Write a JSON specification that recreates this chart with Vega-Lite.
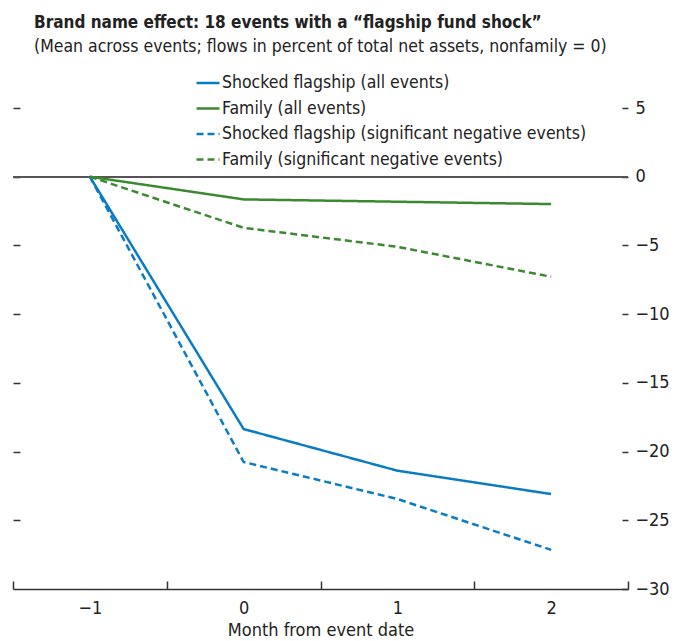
{
  "$schema": "https://vega.github.io/schema/vega-lite/v6.json",
  "autosize": {"type": "none"},
  "width": 615,
  "height": 481,
  "padding": {"left": 13, "top": 108, "right": 55, "bottom": 52},
  "background": "white",
  "config": {
    "font": "DejaVu Sans Condensed, Roboto, sans-serif",
    "view": {"stroke": null},
    "axis": {"grid": false, "labelFont": "DejaVu Sans Condensed, Roboto, sans-serif", "titleFont": "DejaVu Sans Condensed, Roboto, sans-serif", "labelColor": "#222", "titleColor": "#222", "titleFontWeight": "normal", "labelFontSize": 18, "titleFontSize": 18}
  },
  "title": {
    "text": "Brand name effect: 18 events with a “flagship fund shock”",
    "subtitle": "(Mean across events; flows in percent of total net assets, nonfamily = 0)",
    "anchor": "start",
    "frame": "group",
    "dx": 21,
    "offset": 14,
    "font": "DejaVu Sans Condensed, Roboto, sans-serif",
    "fontSize": 17,
    "fontWeight": "bold",
    "color": "#222",
    "subtitleFont": "DejaVu Sans Condensed, Roboto, sans-serif",
    "subtitleFontSize": 17.5,
    "subtitleColor": "#222",
    "subtitlePadding": 6
  },
  "data": {
    "values": [
      {"month": -1, "value": 0, "series": "Shocked flagship (all events)"},
      {"month": 0, "value": -18.36, "series": "Shocked flagship (all events)"},
      {"month": 1, "value": -21.39, "series": "Shocked flagship (all events)"},
      {"month": 2, "value": -23.09, "series": "Shocked flagship (all events)"},
      {"month": -1, "value": 0, "series": "Family (all events)"},
      {"month": 0, "value": -1.65, "series": "Family (all events)"},
      {"month": 1, "value": -1.82, "series": "Family (all events)"},
      {"month": 2, "value": -1.99, "series": "Family (all events)"},
      {"month": -1, "value": 0, "series": "Shocked flagship (significant negative events)"},
      {"month": 0, "value": -20.76, "series": "Shocked flagship (significant negative events)"},
      {"month": 1, "value": -23.45, "series": "Shocked flagship (significant negative events)"},
      {"month": 2, "value": -27.15, "series": "Shocked flagship (significant negative events)"},
      {"month": -1, "value": 0, "series": "Family (significant negative events)"},
      {"month": 0, "value": -3.72, "series": "Family (significant negative events)"},
      {"month": 1, "value": -5.1, "series": "Family (significant negative events)"},
      {"month": 2, "value": -7.28, "series": "Family (significant negative events)"}
    ]
  },
  "resolve": {"axis": {"x": "independent", "y": "independent"}},
  "layer": [
    {
      "mark": {"type": "point", "opacity": 0},
      "encoding": {
        "x": {"field": "month", "type": "quantitative", "scale": {"domain": [-1.5, 2.5], "nice": false, "zero": false},
          "axis": {"orient": "bottom", "values": [-1.5, -0.5, 0.5, 1.5, 2.5], "labels": false, "tickSize": -8, "tickColor": "#333", "tickWidth": 1.5, "domainColor": "#333", "domainWidth": 1.5, "title": null}},
        "y": {"field": "value", "type": "quantitative", "scale": {"domain": [-30, 5], "nice": false, "zero": false},
          "axis": {"orient": "left", "values": [5, 0, -5, -10, -15, -20, -25], "labels": false, "domain": false, "tickSize": -7, "tickColor": "#333", "tickWidth": 1.5, "title": null}}
      }
    },
    {
      "mark": {"type": "rule", "color": "#555", "strokeWidth": 1.5},
      "encoding": {"y": {"datum": 0, "type": "quantitative", "axis": null}}
    },
    {
      "mark": {"type": "line", "strokeWidth": 2.5},
      "encoding": {
        "x": {"field": "month", "type": "quantitative",
          "axis": {"orient": "bottom", "values": [-1, 0, 1, 2], "ticks": false, "domain": false, "labelPadding": 10, "title": "Month from event date", "titlePadding": 4, "format": "d"}},
        "y": {"field": "value", "type": "quantitative",
          "axis": {"orient": "right", "values": [5, 0, -5, -10, -15, -20, -25, -30], "domain": false, "tickSize": -6, "tickColor": "#333", "tickWidth": 1.5, "labelPadding": 13, "title": null, "format": "d"}},
        "color": {"field": "series", "type": "nominal",
          "scale": {"domain": ["Shocked flagship (all events)", "Family (all events)", "Shocked flagship (significant negative events)", "Family (significant negative events)"],
            "range": ["#0a7cc4", "#3b8a2f", "#0a7cc4", "#3b8a2f"]},
          "legend": {"orient": "none", "legendX": 182, "legendY": -38, "title": null, "symbolType": "stroke", "symbolSize": 529, "symbolStrokeWidth": 2.5, "labelFontSize": 17.5, "labelFont": "DejaVu Sans Condensed, Roboto, sans-serif", "labelColor": "#222", "labelOffset": 1, "rowPadding": 3.5, "labelLimit": 500}},
        "strokeDash": {"field": "series", "type": "nominal",
          "scale": {"domain": ["Shocked flagship (all events)", "Family (all events)", "Shocked flagship (significant negative events)", "Family (significant negative events)"],
            "range": [[1, 0], [1, 0], [7, 4], [7, 4]]},
          "legend": {"orient": "none", "legendX": 182, "legendY": -38, "title": null, "symbolType": "stroke", "symbolSize": 529, "symbolStrokeWidth": 2.5, "labelFontSize": 17.5, "labelFont": "DejaVu Sans Condensed, Roboto, sans-serif", "labelColor": "#222", "labelOffset": 1, "rowPadding": 3.5, "labelLimit": 500}}
      }
    }
  ]
}
